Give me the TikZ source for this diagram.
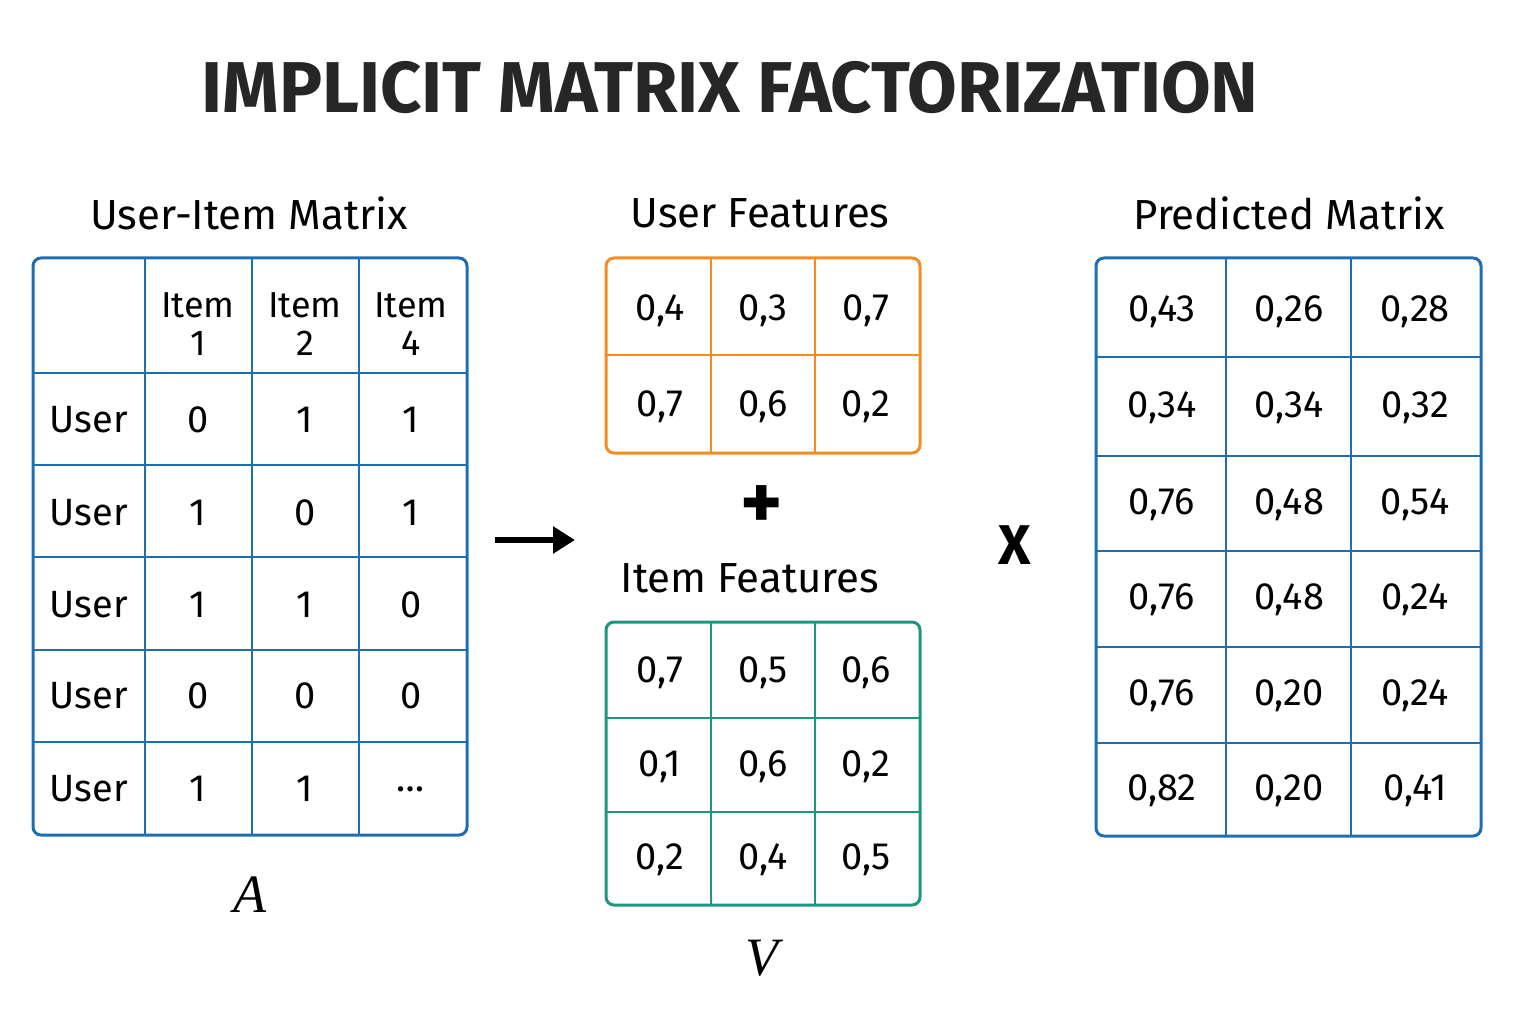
\documentclass[tikz,border=0pt]{standalone}
\usepackage{fontspec}
\setmainfont{Fira Sans}
\newfontfamily\serifit{Liberation Serif}
\usetikzlibrary{arrows.meta}
\begin{document}
\begin{tikzpicture}[x=1pt,y=-1pt]
\definecolor{mblue}{RGB}{30,110,180}
\definecolor{morange}{RGB}{245,140,35}
\definecolor{mgreen}{RGB}{30,150,125}
\tikzset{cell/.style={font=\fontsize{38}{42}\selectfont,inner sep=0pt},
 head/.style={font=\fontsize{42}{46}\selectfont},
 grid/.style={line width=3pt,rounded corners=8pt}}
\useasboundingbox (0,0) rectangle (1536,1024);
\node[font=\fontsize{72}{78}\selectfont\bfseries,text=black!85] (title) at (730,88) {IMPLICIT MATRIX FACTORIZATION};
% Left
\node[head] (h1) at (249,213) {User-Item Matrix};
\draw[grid,mblue] (33,258) rectangle (467,835);
\foreach \x in {145,252,359} \draw[mblue,line width=2pt] (\x,258)--(\x,835);
\foreach \y in {373,465,557,650,742} \draw[mblue,line width=2pt] (33,\y)--(467,\y);
\foreach \x/\t [count=\i] in {198/1,305/2,411/4}
  \node[cell,align=center,font=\fontsize{36}{38}\selectfont] (it\i) at (\x,324) {Item\\\t};
\foreach \y/\a/\b/\c [count=\i] in {420/0/1/1,513/1/0/1,605/1/1/0,696/0/0/0,789/1/1/\dots}{
  \node[cell] (u\i) at (89,\y) {User};
  \node[cell] (ua\i) at (198,\y) {\a};
  \node[cell] (ub\i) at (305,\y) {\b};
  \node[cell] (uc\i) at (411,\y) {\c};}
\node[font=\fontsize{54}{56}\selectfont\serifit\itshape] (A) at (250,895) {A};
\coordinate (as) at (495,540); \coordinate (ae) at (575,540);
\draw[line width=6pt,-{Triangle[length=22pt,width=26pt]}] (as)--(ae);
% user features
\node[head] (h2) at (760,213) {User Features};
\draw[grid,morange] (606,258) rectangle (920,453);
\foreach \x in {711,815} \draw[morange,line width=2pt] (\x,258)--(\x,453);
\draw[morange,line width=2pt] (606,355)--(920,355);
\foreach \y/\a/\b/\c [count=\i] in {311/{0,4}/{0,3}/{0,7},407/{0,7}/{0,6}/{0,2}}{
  \node[cell] (fa\i) at (660,\y) {\a}; \node[cell] (fb\i) at (763,\y) {\b}; \node[cell] (fc\i) at (866,\y) {\c};}
\node[font=\fontsize{80}{80}\selectfont\bfseries] (plus) at (762,508) {+};
\node[head] (h3) at (750,578) {Item Features};
\draw[grid,mgreen] (606,622) rectangle (920,905);
\foreach \x in {711,815} \draw[mgreen,line width=2pt] (\x,622)--(\x,905);
\foreach \y in {718,812} \draw[mgreen,line width=2pt] (606,\y)--(920,\y);
\foreach \y/\a/\b/\c [count=\i] in {673/{0,7}/{0,5}/{0,6},767/{0,1}/{0,6}/{0,2},860/{0,2}/{0,4}/{0,5}}{
  \node[cell] (ga\i) at (660,\y) {\a}; \node[cell] (gb\i) at (763,\y) {\b}; \node[cell] (gc\i) at (866,\y) {\c};}
\node[font=\fontsize{54}{56}\selectfont\serifit\itshape] (V) at (762,958) {V};
\node[font=\fontsize{56}{58}\selectfont\bfseries] (X) at (1015,545) {X};
% predicted
\node[head] (h4) at (1289,213) {Predicted Matrix};
\draw[grid,mblue] (1096,258) rectangle (1481,836);
\foreach \x in {1226,1351} \draw[mblue,line width=2pt] (\x,258)--(\x,836);
\foreach \y in {357,456,551,647,743} \draw[mblue,line width=2pt] (1096,\y)--(1481,\y);
\foreach \y/\a/\b/\c [count=\i] in {312/{0,43}/{0,26}/{0,28},408/{0,34}/{0,34}/{0,32},505/{0,76}/{0,48}/{0,54},600/{0,76}/{0,48}/{0,24},696/{0,76}/{0,20}/{0,24},791/{0,82}/{0,20}/{0,41}}{
  \node[cell] (pa\i) at (1162,\y) {\a}; \node[cell] (pb\i) at (1289,\y) {\b}; \node[cell] (pc\i) at (1415,\y) {\c};}
\end{tikzpicture}
\end{document}
